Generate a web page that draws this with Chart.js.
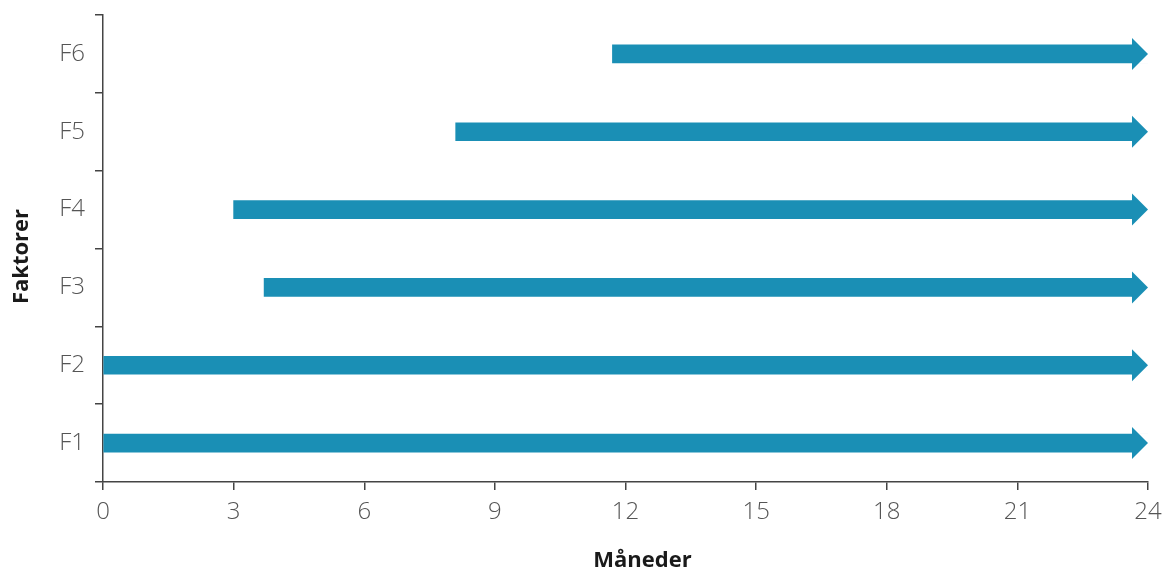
<!DOCTYPE html>
<html>
<head>
<meta charset="utf-8">
<script src="https://cdn.jsdelivr.net/npm/chart.js@4"></script>
<style>
  html, body { margin: 0; padding: 0; background: #fff; }
  #wrap { width: 1166px; height: 570px; position: relative; }
</style>
</head>
<body>
<div id="wrap"><canvas id="c"></canvas></div>
<script>
// Data
const categories = ['F1', 'F2', 'F3', 'F4', 'F5', 'F6'];
const startMonths = [0, 0, 3.7, 3, 8.1, 11.7];
const endMonths = [24, 24, 24, 24, 24, 24];
const xTicks = [0, 3, 6, 9, 12, 15, 18, 21, 24];
const xTitle = 'Måneder';
const yTitle = 'Faktorer';

const BAR_COLOR = '#1a8fb5';
const HEAD_LEN = 16;
const HEAD_HALF = 16;

const arrowPlugin = {
  id: 'arrowHeads',
  afterDatasetsDraw(chart) {
    const ctx = chart.ctx;
    const meta = chart.getDatasetMeta(0);
    ctx.save();
    meta.data.forEach(el => {
      const tip = el.x;
      const y = el.y;
      const h = el.height;
      ctx.fillStyle = '#ffffff';
      ctx.fillRect(tip - HEAD_LEN, y - h / 2 - 1, HEAD_LEN + 2, h + 2);
      ctx.fillStyle = BAR_COLOR;
      ctx.fillRect(tip - HEAD_LEN - 0.5, y - h / 2, 1, h);
      ctx.beginPath();
      ctx.moveTo(tip - HEAD_LEN, y - HEAD_HALF);
      ctx.lineTo(tip, y);
      ctx.lineTo(tip - HEAD_LEN, y + HEAD_HALF);
      ctx.closePath();
      ctx.fill();
    });
    ctx.restore();
  }
};

// Axis titles (slightly off-centre as in the reference)
const titlePlugin = {
  id: 'axisTitles',
  afterDraw(chart) {
    const ctx = chart.ctx;
    const ca = chart.chartArea;
    ctx.save();
    ctx.fillStyle = '#1a1a1a';
    ctx.font = 'bold 22px "Open Sans"';
    ctx.textAlign = 'center';
    ctx.textBaseline = 'alphabetic';
    ctx.fillText(xTitle, (ca.left + ca.right) / 2 + 17, 567);
    ctx.translate(28, (ca.top + ca.bottom) / 2 + 8);
    ctx.rotate(-Math.PI / 2);
    ctx.fillText(yTitle, 0, 0);
    ctx.restore();
  }
};

new Chart(document.getElementById('c'), {
  type: 'bar',
  data: {
    labels: categories,
    datasets: [{
      data: categories.map((c, i) => [startMonths[i], endMonths[i]]),
      backgroundColor: BAR_COLOR,
      borderWidth: 0,
      barThickness: 18,
      borderSkipped: false
    }]
  },
  options: {
    indexAxis: 'y',
    responsive: true,
    maintainAspectRatio: false,
    animation: false,
    events: [],
    layout: { padding: { top: 15, right: 18, left: 0, bottom: 0 } },
    plugins: { legend: { display: false }, tooltip: { enabled: false } },
    scales: {
      x: {
        type: 'linear',
        min: 0,
        max: 24,
        afterBuildTicks: s => { s.ticks = xTicks.map(v => ({ value: v })); },
        afterFit: s => { s.height = 88; s.paddingLeft = 0; s.paddingRight = 0; },
        border: { display: true, color: '#444', width: 1.5 },
        grid: { drawOnChartArea: false, drawTicks: true, tickLength: 8, color: '#444', lineWidth: 1.5 },
        ticks: { color: '#555', padding: 8, font: { family: 'Open Sans', size: 24, weight: '300' } },
        title: { display: false, text: xTitle }
      },
      y: {
        reverse: true,
        afterFit: s => { s.width = 103; s.paddingTop = 0; s.paddingBottom = 0; },
        border: { display: true, color: '#444', width: 1.5 },
        grid: { drawOnChartArea: false, drawTicks: true, tickLength: 8, color: '#444', lineWidth: 1.5, offset: true },
        ticks: { color: '#555', padding: 10, font: { family: 'Open Sans', size: 24, weight: '300' } },
        title: { display: false, text: yTitle }
      }
    }
  },
  plugins: [arrowPlugin, titlePlugin]
});
</script>
</body>
</html>
